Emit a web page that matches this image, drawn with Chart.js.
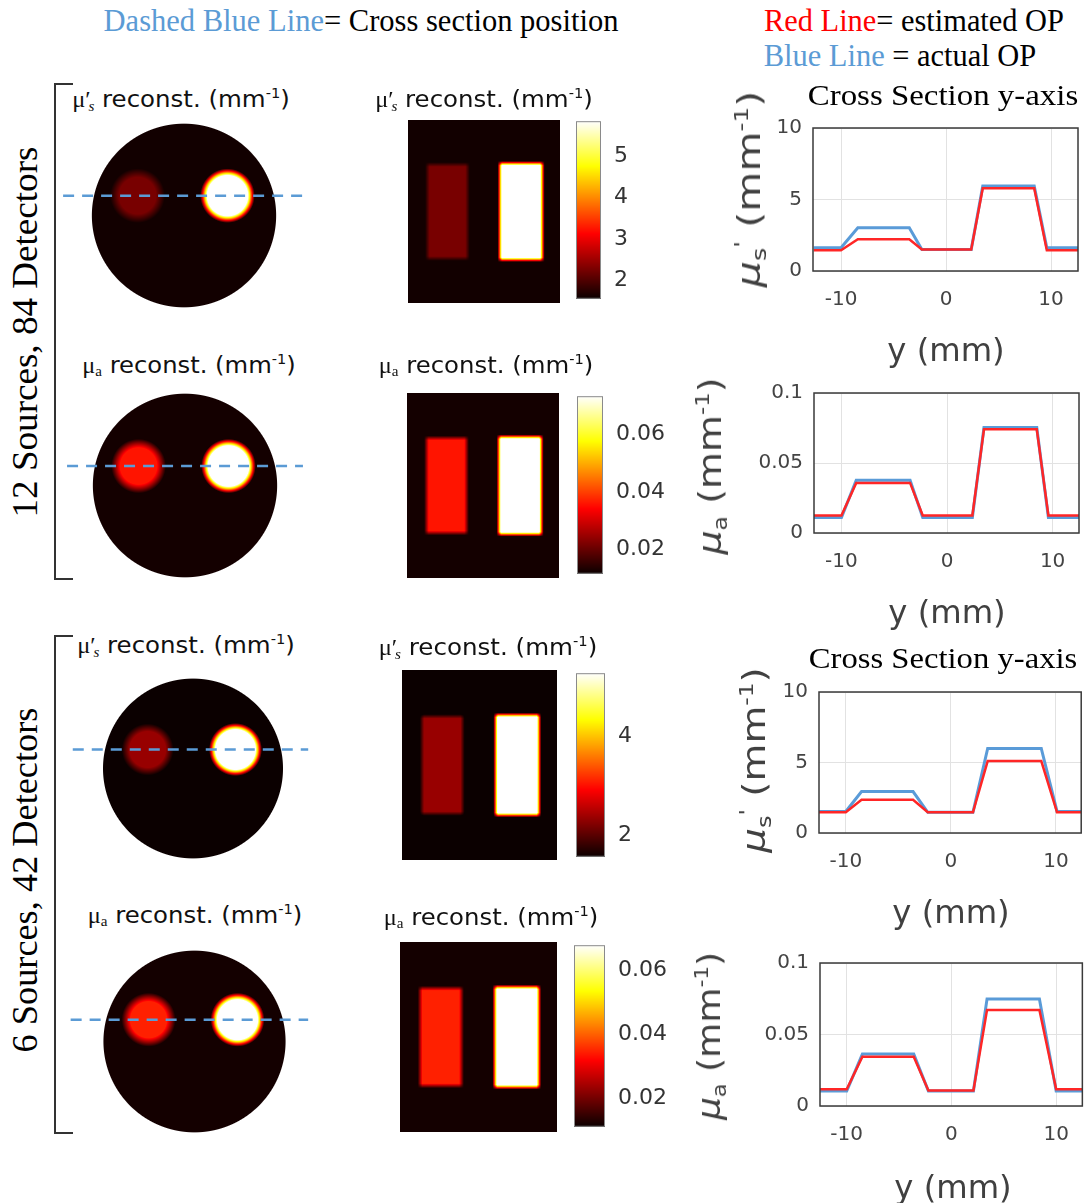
<!DOCTYPE html>
<html>
<head>
<meta charset="utf-8">
<script src="https://cdn.jsdelivr.net/npm/chart.js@4.4.0/dist/chart.umd.min.js"></script>
<style>
  body { margin: 0; background: #fff; }
  #fig { position: relative; width: 1086px; height: 1203px; overflow: hidden; background: #fff; }
  #fig canvas { position: absolute; }
  .t { position: absolute; white-space: nowrap; line-height: 1; transform-origin: 50% 50%; }
  .serif { font-family: "Liberation Serif", "Times New Roman", serif; color: #000; }
  .sans { font-family: "DejaVu Sans", sans-serif; color: #111; }
  .axl { font-family: "DejaVu Sans", sans-serif; color: #404040; }
  .gk { font-family: "Liberation Serif", serif; }
  .blue { color: #5b9bd5; }
  .red { color: #ff0000; }
  .t sup { font-size: 60%; vertical-align: 0.6em; line-height: 0; }
  .t sub { font-size: 62%; vertical-align: -0.28em; line-height: 0; }
  .brk { position: absolute; border: 2px solid #333; border-right: none; }
</style>
</head>
<body>
<div id="fig">
  <div class="brk" style="left:54px;top:83px;width:17px;height:493px"></div>
  <div class="brk" style="left:54px;top:635px;width:17px;height:495px"></div>
</div>
<script>
// ---- profile data along the cross section (y in mm) ----
const xTicks = [-10, 0, 10]
const musTicks = [0, 5, 10]
const muaTicks = [0, 0.05, 0.1]

// 12 sources, 84 detectors
const yPos12s = [-12.6, -10.0, -8.4, -3.5, -2.3, 2.4, 3.5, 8.4, 9.6, 12.6]
const mus12Actual = [1.62, 1.62, 3.02, 3.02, 1.5, 1.5, 5.95, 5.95, 1.62, 1.62]
const mus12Est = [1.45, 1.45, 2.22, 2.22, 1.5, 1.5, 5.78, 5.78, 1.45, 1.45]

const yPos12a = [-12.6, -10.0, -8.6, -3.5, -2.3, 2.4, 3.5, 8.5, 9.6, 12.5]
const mua12Actual = [0.0111, 0.0111, 0.0376, 0.0376, 0.0111, 0.0111, 0.0753, 0.0753, 0.0111, 0.0111]
const mua12Est = [0.0125, 0.0125, 0.0358, 0.0358, 0.0125, 0.0125, 0.0741, 0.0741, 0.0125, 0.0125]

// 6 sources, 42 detectors
const yPos6s = [-12.55, -10.0, -8.5, -3.6, -2.2, 2.1, 3.5, 8.6, 10.1, 12.4]
const mus6Actual = [1.53, 1.53, 2.94, 2.94, 1.47, 1.47, 6.0, 6.0, 1.53, 1.53]
const mus6Est = [1.47, 1.47, 2.35, 2.35, 1.47, 1.47, 5.1, 5.1, 1.47, 1.47]

const yPos6a = [-12.55, -10.0, -8.5, -3.6, -2.2, 2.1, 3.4, 8.4, 10.0, 12.5]
const mua6Actual = [0.0105, 0.0105, 0.0363, 0.0363, 0.0105, 0.0105, 0.0749, 0.0749, 0.0105, 0.0105]
const mua6Est = [0.0117, 0.0117, 0.0344, 0.0344, 0.0108, 0.0108, 0.0672, 0.0672, 0.0117, 0.0117]

// ---- reconstructed maps, one entry per row (mus 12, mua 12, mus 6, mua 6) ----
const bgValue = [1.6, 0.0125, 1.5, 0.0117]
const leftValue = [2.25, 0.036, 2.35, 0.0344]
const rightValue = [6.1, 0.078, 5.6, 0.072]
const cbMin = [1.55, 0.0116, 1.57, 0.0109]
const cbMax = [5.85, 0.0734, 5.26, 0.0679]
const cbTicks = [[2, 3, 4, 5], [0.02, 0.04, 0.06], [2, 4], [0.02, 0.04, 0.06]]

// inclusions (mm)
const blobX = [-6.3, 5.9]
const blobR = [3.1, 3.2]
const blobEdge = [1.2, 1.0]
const sectionZ = [2.7, 2.65, 2.64, 3.0]      // height of the cross section line in the disc
const dashFrom = [-16.4, -16.0, -16.7, -17.0]
const dashTo = [16.1, 16.0, 16.0, 15.6]
const rectX = [-6.0, 6.1]
const rectHalfW = [3.3, 3.5]
const rectHalfH = [7.7, 7.9]

const fig = document.getElementById('fig')

function makeCanvas(x, y, w, h) {
    let c = document.createElement('canvas')
    c.width = w; c.height = h
    c.style.left = x + 'px'; c.style.top = y + 'px'
    fig.appendChild(c)
    return c
}

function clamp(v) { return Math.max(0, Math.min(1, v)) }

// matlab "hot" colormap, 64 steps
function hot(t) {
    let i = clamp(t) * 63 + 1
    return [clamp(i / 24) * 255, clamp((i - 24) / 24) * 255, clamp((i - 48) / 16) * 255]
}

const baseOpts = {
    animation: false,
    responsive: false,
    events: [],
    plugins: { legend: { display: false }, tooltip: { enabled: false } }
}

// paints the value field pixel by pixel through the chart scales
function heatPlugin(k, valueAt, inside) {
    return {
        id: 'heat',
        beforeDatasetsDraw(chart) {
            let a = chart.chartArea, xs = chart.scales.x, ys = chart.scales.y
            let w = Math.round(a.right - a.left), h = Math.round(a.bottom - a.top)
            let ppm = w / (xs.max - xs.min)
            let off = document.createElement('canvas')
            off.width = w; off.height = h
            let octx = off.getContext('2d')
            let img = octx.createImageData(w, h)
            for (let py = 0; py < h; py++) {
                for (let px = 0; px < w; px++) {
                    let x = xs.getValueForPixel(a.left + px + 0.5)
                    let y = ys.getValueForPixel(a.top + py + 0.5)
                    let alpha = inside(x, y, ppm)
                    if (alpha <= 0) continue
                    let col = hot((valueAt(x, y) - cbMin[k]) / (cbMax[k] - cbMin[k]))
                    let o = (py * w + px) * 4
                    img.data[o] = col[0]; img.data[o + 1] = col[1]; img.data[o + 2] = col[2]
                    img.data[o + 3] = alpha * 255
                }
            }
            octx.putImageData(img, 0, 0)
            chart.ctx.drawImage(off, a.left, a.top)
        }
    }
}

// ---- discs with the dashed cross section line ----
const discs = [
    { cx: 183.5, cy: 215, ppm: 7.36 },
    { cx: 185, cy: 485.5, ppm: 7.36 },
    { cx: 192.5, cy: 768, ppm: 7.2 },
    { cx: 194, cy: 1041, ppm: 7.28 }
]

discs.forEach((d, k) => {
    let w = Math.round(35 * d.ppm), h = Math.round(26 * d.ppm)
    let cv = makeCanvas(Math.round(d.cx - w / 2), Math.round(d.cy - h / 2), w, h)
    let vals = [leftValue[k], rightValue[k]]
    let valueAt = (x, y) => {
        let v = bgValue[k]
        for (let j = 0; j < 2; j++) {
            let dist = Math.hypot(x - blobX[j], y - sectionZ[k])
            v += (vals[j] - bgValue[k]) * clamp((blobR[j] + blobEdge[j] / 2 - dist) / blobEdge[j])
        }
        return v
    }
    let inside = (x, y, ppm) => clamp((12.5 - Math.hypot(x, y)) * ppm + 0.5)
    new Chart(cv, {
        type: 'scatter',
        data: {
            datasets: [{
                data: [{ x: dashFrom[k], y: sectionZ[k] }, { x: dashTo[k], y: sectionZ[k] }],
                showLine: true,
                borderColor: '#5b9bd5',
                borderWidth: 2.5,
                borderDash: [11, 8],
                pointRadius: 0
            }]
        },
        options: {
            ...baseOpts,
            scales: {
                x: { display: false, min: -17.5, max: 17.5 },
                y: { display: false, min: -13, max: 13 }
            }
        },
        plugins: [heatPlugin(k, valueAt, inside)]
    })
})

// ---- side view maps with colorbars ----
const slabs = [
    { x: 408, y: 120, w: 152, h: 183, cb: [576, 118, 25, 184] },
    { x: 407, y: 393, w: 152, h: 185, cb: [577, 393, 26, 184] },
    { x: 402, y: 670, w: 155, h: 190, cb: [576, 670, 29, 190] },
    { x: 400, y: 942, w: 157, h: 190, cb: [574, 942, 31, 188] }
]

slabs.forEach((s, k) => {
    let cv = makeCanvas(s.x, s.y, s.w, s.h)
    let vals = [leftValue[k], rightValue[k]]
    let e = 0.75
    let valueAt = (x, y) => {
        let v = bgValue[k]
        for (let j = 0; j < 2; j++) {
            let sx = clamp((rectHalfW[j] + e / 2 - Math.abs(x - rectX[j])) / e)
            let sy = clamp((rectHalfH[j] + e / 2 - Math.abs(y)) / e)
            v += (vals[j] - bgValue[k]) * sx * sy
        }
        return v
    }
    new Chart(cv, {
        type: 'scatter',
        data: { datasets: [] },
        options: {
            ...baseOpts,
            scales: {
                x: { display: false, min: -12.5, max: 12.5 },
                y: { display: false, min: -15, max: 15 }
            }
        },
        plugins: [heatPlugin(k, valueAt, () => 1)]
    })

    // colorbar
    let [bx, by, bw, bh] = s.cb
    let cbv = makeCanvas(bx, by - 15, bw + 75, bh + 30)
    new Chart(cbv, {
        type: 'scatter',
        data: { datasets: [] },
        options: {
            ...baseOpts,
            layout: { padding: { top: 15, bottom: 15, left: 0, right: 0 } },
            scales: {
                x: { display: false, min: 0, max: 1 },
                y: {
                    position: 'right',
                    min: cbMin[k], max: cbMax[k],
                    afterBuildTicks: (sc) => { sc.ticks = cbTicks[k].map(v => ({ value: v })) },
                    afterFit: (sc) => { sc.width = 75 },
                    grid: { display: false },
                    border: { display: false },
                    ticks: {
                        font: { family: 'DejaVu Sans', size: 22 },
                        color: '#333',
                        padding: 5,
                        callback: (v) => String(v)
                    }
                }
            }
        },
        plugins: [{
            id: 'cbar',
            beforeDraw(chart) {
                let a = chart.chartArea, ys = chart.scales.y, c = chart.ctx
                for (let py = Math.floor(a.top); py < a.bottom; py++) {
                    let col = hot((ys.getValueForPixel(py + 0.5) - cbMin[k]) / (cbMax[k] - cbMin[k]))
                    c.fillStyle = `rgb(${col[0] | 0},${col[1] | 0},${col[2] | 0})`
                    c.fillRect(a.left, py, a.right - a.left, 1)
                }
                c.strokeStyle = '#8a8a8a'
                c.lineWidth = 1
                c.strokeRect(a.left + 0.5, a.top + 0.5, a.right - a.left - 1, a.bottom - a.top - 1)
            }
        }]
    })
})

// ---- cross section profiles ----
const profiles = [
    { pos: yPos12s, actual: mus12Actual, est: mus12Est, yTicks: musTicks, xr: [-12.67, 12.57], canvas: [700, 80, 386, 290], plot: [813, 128, 1078, 271] },
    { pos: yPos12a, actual: mua12Actual, est: mua12Est, yTicks: muaTicks, xr: [-12.6, 12.5], canvas: [700, 370, 386, 270], plot: [814, 392, 1079, 533] },
    { pos: yPos6s, actual: mus6Actual, est: mus6Est, yTicks: musTicks, xr: [-12.55, 12.4], canvas: [700, 640, 386, 300], plot: [819, 692, 1083, 833] },
    { pos: yPos6a, actual: mua6Actual, est: mua6Est, yTicks: muaTicks, xr: [-12.55, 12.5], canvas: [700, 940, 386, 263], plot: [820, 963, 1085, 1106] }
]

const boxPlugin = {
    id: 'box',
    afterDraw(chart) {
        let a = chart.chartArea, c = chart.ctx
        c.save()
        c.strokeStyle = '#3a3a3a'
        c.lineWidth = 1.5
        c.strokeRect(a.left, a.top, a.right - a.left, a.bottom - a.top)
        c.restore()
    }
}

profiles.forEach((p) => {
    let [cx, cy, cw, ch] = p.canvas
    let [L, T, R, B] = p.plot
    let cv = makeCanvas(cx, cy, cw, ch)
    let tickFont = { family: 'DejaVu Sans', size: 20 }
    new Chart(cv, {
        type: 'line',
        data: {
            datasets: [
                { data: p.pos.map((x, j) => ({ x: x, y: p.est[j] })), borderColor: '#ff2626', borderWidth: 2.5 },
                { data: p.pos.map((x, j) => ({ x: x, y: p.actual[j] })), borderColor: '#5a9bd8', borderWidth: 3 }
            ]
        },
        options: {
            ...baseOpts,
            elements: { point: { radius: 0 }, line: { tension: 0 } },
            layout: { padding: { top: T - cy, right: cx + cw - R, left: 0, bottom: 0 } },
            scales: {
                x: {
                    type: 'linear',
                    min: p.xr[0], max: p.xr[1],
                    afterBuildTicks: (sc) => { sc.ticks = xTicks.map(v => ({ value: v })) },
                    afterFit: (sc) => { sc.height = cy + ch - B },
                    grid: { color: '#e2e2e2', drawTicks: false },
                    border: { display: false },
                    ticks: { font: tickFont, color: '#444', padding: 17, maxRotation: 0 }
                },
                y: {
                    min: p.yTicks[0], max: p.yTicks[p.yTicks.length - 1],
                    afterBuildTicks: (sc) => { sc.ticks = p.yTicks.map(v => ({ value: v })) },
                    afterFit: (sc) => { sc.width = L - cx },
                    grid: { color: '#e2e2e2', drawTicks: false },
                    border: { display: false },
                    ticks: { font: tickFont, color: '#444', padding: 11, callback: (v) => String(v) }
                }
            }
        },
        plugins: [boxPlugin]
    })
})

// ---- text ----
const musTitle = '<span class="gk">μ′</span><sub class="gk" style="margin-left:-0.15em"><i>s</i></sub> reconst. (mm<sup>-1</sup>)'
const muaTitle = '<span class="gk">μ</span><sub class="gk">a</sub> reconst. (mm<sup>-1</sup>)'
const musAxis = '<i>μ</i><sub>s</sub><sup>\'</sup> (mm<sup>-1</sup>)'
const muaAxis = '<i>μ</i><sub>a</sub> (mm<sup>-1</sup>)'

const texts = [
    ['<span class="blue">Dashed Blue Line</span>= Cross section position', 'serif', 360.5, 20, 515, 31, 0],
    ['<span class="red">Red Line</span>= estimated OP', 'serif', 914, 20, 300, 31, 0],
    ['<span class="blue">Blue Line</span> = actual OP', 'serif', 900, 55, 272, 31, 0],
    ['12 Sources, 84 Detectors', 'serif', 25, 332, 371, 36, -90],
    ['6 Sources, 42 Detectors', 'serif', 25, 880, 345, 36, -90],
    ['Cross Section y-axis', 'serif', 943, 95, 270, 29, 0],
    ['Cross Section y-axis', 'serif', 943, 658, 268, 29, 0],
    [musTitle, 'sans', 181, 99, 218, 23, 0],
    [muaTitle, 'sans', 189, 365, 214, 23, 0],
    [musTitle, 'sans', 186, 645, 218, 23, 0],
    [muaTitle, 'sans', 194.5, 915, 215, 23, 0],
    [musTitle, 'sans', 484, 99, 218, 23, 0],
    [muaTitle, 'sans', 485.5, 365, 215, 23, 0],
    [musTitle, 'sans', 487.5, 647, 219, 23, 0],
    [muaTitle, 'sans', 490.5, 917, 215, 23, 0],
    [musAxis, 'axl', 749, 188.5, 197, 32, -90],
    [muaAxis, 'axl', 710, 466, 177, 32, -90],
    [musAxis, 'axl', 754, 760, 186, 32, -90],
    [muaAxis, 'axl', 709, 1036, 168, 32, -90],
    ['y (mm)', 'axl', 946, 350, 117, 32, 0],
    ['y (mm)', 'axl', 947, 612, 117, 32, 0],
    ['y (mm)', 'axl', 951, 912, 117, 32, 0],
    ['y (mm)', 'axl', 953, 1187, 117, 32, 0]
]

texts.forEach(([html, cls, x, y, w, size, rot]) => {
    let el = document.createElement('div')
    el.className = 't ' + cls
    el.style.fontSize = size + 'px'
    el.innerHTML = html
    fig.appendChild(el)
    let k = w / el.offsetWidth
    el.style.left = x + 'px'
    el.style.top = y + 'px'
    el.style.transform = `translate(-50%, -50%) rotate(${rot}deg) scaleX(${k})`
})
</script>
</body>
</html>
